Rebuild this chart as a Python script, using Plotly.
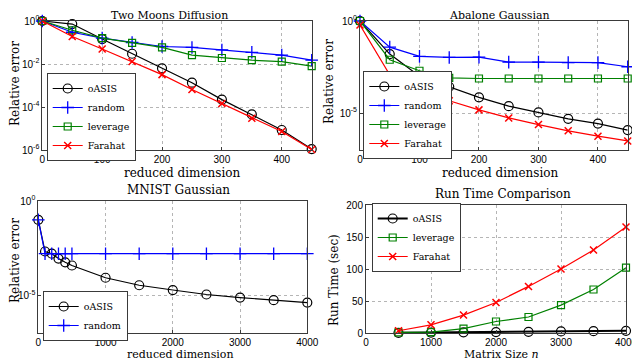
import plotly.graph_objects as go

# the page body keeps an 8px margin, so the figure is drawn 8px in and 8px smaller
OFF = 8
W, H = 640 - OFF, 361 - OFF

# ---- data -------------------------------------------------------------
# Two Moons Diffusion
moons_x = [0, 50, 100, 150, 200, 250, 300, 350, 400, 450]
moons_oasis = [1.0, 0.72, 0.145, 0.03, 0.0063, 0.00135, 2.2e-4, 4.5e-5, 8.5e-6, 1.1e-6]
moons_random = [1.0, 0.3, 0.16, 0.1, 0.065, 0.059, 0.045, 0.035, 0.026, 0.015]
moons_leverage = [1.0, 0.37, 0.16, 0.097, 0.059, 0.026, 0.019, 0.015, 0.013, 0.008]
moons_farahat = [1.0, 0.19, 0.05, 0.013, 0.0032, 6.5e-4, 1.45e-4, 3.0e-5, 7.2e-6, 1.05e-6]

# Abalone Gaussian
abalone_x = [0, 50, 100, 150, 200, 250, 300, 350, 400, 450]
abalone_oasis = [1.0, 1.6e-2, 1.0e-3, 2.7e-4, 7.2e-5, 2.4e-5, 1.1e-5, 4.9e-6, 2.7e-6, 1.2e-6]
abalone_random = [1.0, 0.038, 0.012, 0.0105, 0.011, 0.0059, 0.0059, 0.0055, 0.0055, 0.0033]
abalone_leverage = [1.0, 0.0079, 0.002, 8.3e-4, 7.6e-4, 7.6e-4, 7.6e-4, 7.6e-4, 7.6e-4, 7.6e-4]
abalone_farahat = [0.6, 1.2e-3, 1.7e-4, 4.7e-5, 1.5e-5, 5.5e-6, 2.4e-6, 1.1e-6, 5.6e-7, 3.1e-7]

# MNIST Gaussian
mnist_x = [0, 100, 200, 300, 400, 500, 1000, 1500, 2000, 2500, 3000, 3500, 4000]
mnist_oasis = [0.1, 2.1e-3, 1.6e-3, 8.9e-4, 5.6e-4, 3.8e-4, 8.5e-5, 3.4e-5, 1.9e-5,
               1.1e-5, 7.6e-6, 5.5e-6, 4.1e-6]
mnist_random = [0.1, 1.6e-3, 1.6e-3, 1.6e-3, 1.6e-3, 1.6e-3, 1.6e-3, 1.6e-3, 1.6e-3,
                1.6e-3, 1.6e-3, 1.6e-3, 1.6e-3]

# Run Time Comparison (sec)
size_n = [500, 1000, 1500, 2000, 2500, 3000, 3500, 4000]
time_oasis = [0.3, 0.6, 1.0, 1.4, 1.9, 2.4, 2.9, 3.4]
time_leverage = [1.0, 1.5, 6.7, 18, 25, 43.6, 68, 102]
time_farahat = [3.5, 12.8, 28, 47.7, 72.8, 100, 129.7, 165.7]

# tick labels
log_ticks_moons = [1, 1e-2, 1e-4, 1e-6]
log_text_moons = ["10<sup>0</sup>", "10<sup>-2</sup>", "10<sup>-4</sup>", "10<sup>-6</sup>"]
log_ticks_five = [1, 1e-5]
log_text_five = ["10<sup>0</sup>", "10<sup>-5</sup>"]

# ---- styling ----------------------------------------------------------
SERIF = "DejaVu Serif"
SANS = "Liberation Sans"
GREEN = "#008000"

STYLES = {
    "oASIS":    dict(line=dict(color="black", width=1.2),
                     marker=dict(symbol="circle-open", size=9, color="black", line=dict(width=1.2))),
    "random":   dict(line=dict(color="#0000ff", width=1.2),
                     marker=dict(symbol="cross-thin-open", size=9, color="#0000ff", line=dict(width=1.3))),
    "leverage": dict(line=dict(color=GREEN, width=1.2),
                     marker=dict(symbol="square-open", size=7, color=GREEN, line=dict(width=1.2))),
    "Farahat":  dict(line=dict(color="#ff0000", width=1.2),
                     marker=dict(symbol="x-thin-open", size=7, color="#ff0000", line=dict(width=1.5))),
}


def px_x(x):
    return (x - OFF) / W


def px_y(y):
    return 1 - (y - OFF) / H


def _axis_common():
    return dict(
        showline=True, mirror=True, linecolor="#3a3a3a", linewidth=1,
        ticks="inside", ticklen=3, tickcolor="#3a3a3a",
        showgrid=True, gridcolor="#b5b5b5", griddash="dot", gridwidth=1, zeroline=False,
        tickfont=dict(family=SANS, size=10, color="black"),
        automargin=False,
    )


def _xaxis(x0, x1, anchor, rng, tickvals):
    return dict(domain=[px_x(x0), px_x(x1)], anchor=anchor, range=rng, tickvals=tickvals,
                **_axis_common())


def _yaxis(y0, y1, anchor, rng, tickvals, ticktext, log=True):
    d = dict(domain=[px_y(y1), px_y(y0)], anchor=anchor, range=rng, tickvals=tickvals,
             **_axis_common())
    if log:
        d["type"] = "log"
    if ticktext is not None:
        d["ticktext"] = ticktext
    return d


def _legend(x, y):
    return dict(
        x=px_x(x), y=px_y(y), xanchor="left", yanchor="top",
        bgcolor="white", bordercolor="#3a3a3a", borderwidth=1,
        font=dict(family=SERIF, size=9.5, color="black"),
        itemwidth=30, tracegroupgap=0,
    )


def _text(t, x, y, size=12, angle=0):
    return dict(text=t, x=px_x(x), y=px_y(y), xref="paper", yref="paper",
                xanchor="center", yanchor="middle", showarrow=False, textangle=angle,
                font=dict(family=SERIF, size=size, color="black"))


fig = go.Figure()


def add(x, y, name, ax, legend, width=None):
    st = STYLES[name]
    line = dict(st["line"])
    if width:
        line["width"] = width
    fig.add_trace(go.Scatter(
        x=x, y=y, name=name, mode="lines+markers",
        line=line, marker=st["marker"],
        xaxis="x" + ax, yaxis="y" + ax, legend=legend, cliponaxis=False,
    ))


add(moons_x, moons_oasis, "oASIS", "", "legend")
add(moons_x, moons_random, "random", "", "legend")
add(moons_x, moons_leverage, "leverage", "", "legend")
add(moons_x, moons_farahat, "Farahat", "", "legend")

add(abalone_x, abalone_oasis, "oASIS", "2", "legend2")
add(abalone_x, abalone_random, "random", "2", "legend2")
add(abalone_x, abalone_leverage, "leverage", "2", "legend2")
add(abalone_x, abalone_farahat, "Farahat", "2", "legend2")

add(mnist_x, mnist_oasis, "oASIS", "3", "legend3")
add(mnist_x, mnist_random, "random", "3", "legend3")

add(size_n, time_oasis, "oASIS", "4", "legend4", width=2)
add(size_n, time_leverage, "leverage", "4", "legend4")
add(size_n, time_farahat, "Farahat", "4", "legend4")

annotations = [
    # panel titles
    _text("Two Moons Diffusion", 169, 15, 11),
    _text("Abalone Gaussian", 499, 15, 11),
    _text("MNIST Gaussian", 178, 190, 12),
    _text("Run Time Comparison", 503, 194, 12),
    # axis titles
    _text("reduced dimension", 183, 172.5),
    _text("reduced dimension", 500, 172.5),
    _text("reduced dimension", 180, 354.5, 11),
    _text("Matrix Size <i>n</i>", 502, 354.5, 11),
    _text("Relative error", 15, 84, angle=-90),
    _text("Relative error", 329, 82, angle=-90),
    _text("Relative error", 15, 261, angle=-90),
    _text("Run Time (sec)", 334, 280, angle=-90),
]

fig.update_layout(
    width=W, height=H, margin=dict(l=0, r=0, t=0, b=0),
    paper_bgcolor="white", plot_bgcolor="white", showlegend=True,
    font=dict(family=SERIF, size=10, color="black"),
    xaxis=_xaxis(42.3, 311.7, "y", [0, 450], [0, 100, 200, 300, 400]),
    yaxis=_yaxis(21, 150, "x", [-6, 0], log_ticks_moons, log_text_moons),
    xaxis2=_xaxis(360, 627.7, "y2", [0, 450], [0, 100, 200, 300, 400]),
    yaxis2=_yaxis(21, 150, "x2", [-7, 0], log_ticks_five, log_text_five),
    xaxis3=_xaxis(38.3, 307.3, "y3", [0, 4000], [0, 1000, 2000, 3000, 4000]),
    yaxis3=_yaxis(201, 333, "x3", [-7, 0], log_ticks_five, log_text_five),
    xaxis4=_xaxis(366, 626, "y4", [0, 4000], [0, 1000, 2000, 3000, 4000]),
    yaxis4=_yaxis(205, 333, "x4", [0, 200], [0, 50, 100, 150, 200], None, log=False),
    legend=_legend(46.7, 73),
    legend2=_legend(363.3, 71),
    legend3=_legend(42.7, 291),
    legend4=_legend(371.7, 203),
    annotations=annotations,
)

fig.write_html("out.html")
